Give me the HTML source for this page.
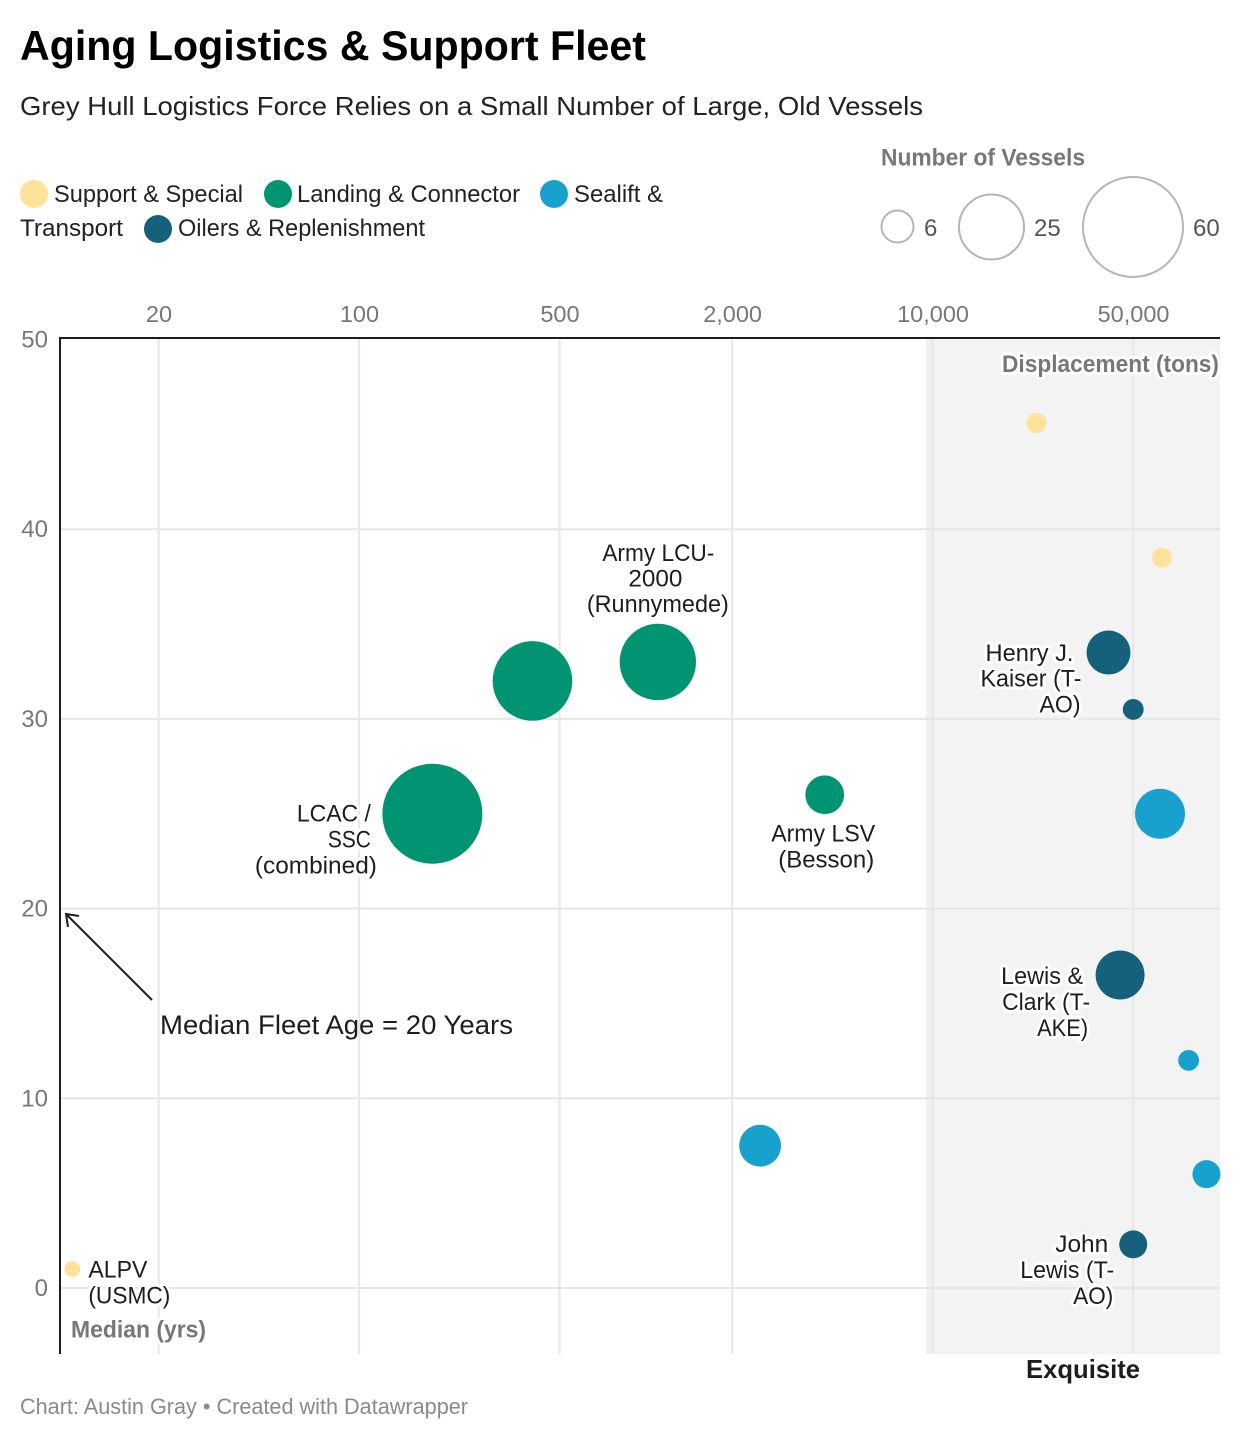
<!DOCTYPE html>
<html lang="en">
<head>
<meta charset="utf-8">
<title>Aging Logistics &amp; Support Fleet</title>
<style>
html,body{margin:0;padding:0;background:#fff;}
body{width:1240px;height:1440px;overflow:hidden;font-family:"Liberation Sans",sans-serif;}
svg{display:block;}
text{font-family:"Liberation Sans",sans-serif;}
.halo{paint-order:stroke;stroke:#fff;stroke-width:6px;stroke-linejoin:round;}
</style>
</head>
<body>
<svg id="chart" xmlns="http://www.w3.org/2000/svg" width="1240" height="1440" viewBox="0 0 1240 1440">
  <text x="20" y="60" font-size="42" font-weight="700" fill="#000" textLength="626" lengthAdjust="spacingAndGlyphs">Aging Logistics &amp; Support Fleet</text>
  <text x="20" y="115" font-size="26" fill="#222" textLength="903" lengthAdjust="spacingAndGlyphs">Grey Hull Logistics Force Relies on a Small Number of Large, Old Vessels</text>

  <g font-size="24" fill="#222">
    <circle cx="34" cy="194" r="14" fill="#ffe29a"/>
    <text x="54" y="202" textLength="189" lengthAdjust="spacingAndGlyphs">Support &amp; Special</text>
    <circle cx="278" cy="194" r="14" fill="#009473"/>
    <text x="297" y="202" textLength="223" lengthAdjust="spacingAndGlyphs">Landing &amp; Connector</text>
    <circle cx="554" cy="194" r="14" fill="#18a1cd"/>
    <text x="574" y="202" textLength="89" lengthAdjust="spacingAndGlyphs">Sealift &amp;</text>
    <text x="20" y="236" textLength="103" lengthAdjust="spacingAndGlyphs">Transport</text>
    <circle cx="158" cy="229" r="14" fill="#15607a"/>
    <text x="178" y="236" textLength="247" lengthAdjust="spacingAndGlyphs">Oilers &amp; Replenishment</text>
  </g>

  <g>
    <text x="881" y="165.5" font-size="24" font-weight="700" fill="#777" textLength="204" lengthAdjust="spacingAndGlyphs">Number of Vessels</text>
    <circle cx="897.5" cy="226.5" r="16" fill="none" stroke="#b5b5b5" stroke-width="2"/>
    <text x="924" y="236" font-size="24" fill="#555">6</text>
    <circle cx="991.5" cy="227" r="32.5" fill="none" stroke="#b5b5b5" stroke-width="2"/>
    <text x="1034" y="236" font-size="24" fill="#555">25</text>
    <circle cx="1133" cy="227" r="50" fill="none" stroke="#b5b5b5" stroke-width="2"/>
    <text x="1193" y="236" font-size="24" fill="#555">60</text>
  </g>

  <rect x="926" y="338" width="294" height="1016" fill="#f3f3f3"/>
  <rect x="926" y="338" width="7" height="1016" fill="#f0f0f0"/>

  <g id="grid"></g>
  <g id="axes"></g>
  <g id="marks"></g>
  <g id="labels" font-size="24" fill="#1d1d1d"></g>

  <text class="halo" x="1002" y="372" font-size="24" font-weight="700" fill="#777" textLength="217" lengthAdjust="spacingAndGlyphs">Displacement (tons)</text>
  <text class="halo" x="71" y="1337.5" font-size="24" font-weight="700" fill="#777" textLength="135" lengthAdjust="spacingAndGlyphs">Median (yrs)</text>

  <g>
    <path d="M152 1000 L66 914 M79 916 L66 914 L68 927" fill="none" stroke="#1d1d1d" stroke-width="2"/>
    <text x="160" y="1034" font-size="27" fill="#1d1d1d" textLength="353" lengthAdjust="spacingAndGlyphs">Median Fleet Age = 20 Years</text>
  </g>

  <text x="1026" y="1378" font-size="26" font-weight="700" fill="#1d1d1d" textLength="114" lengthAdjust="spacingAndGlyphs">Exquisite</text>
  <text x="20" y="1414" font-size="22" fill="#8a8a8a" textLength="448" lengthAdjust="spacingAndGlyphs">Chart: Austin Gray • Created with Datawrapper</text>
</svg>
<script>
// ---- Data ----
const xTickValues = [20, 100, 500, 2000, 10000, 50000];
const yTickValues = [0, 10, 20, 30, 40, 50];
const categories = ['support', 'landing', 'sealift', 'oilers'];
const categoryColors = ['#ffe29a', '#009473', '#18a1cd', '#15607a'];
const vesselNames = ['Support A', 'Support B', 'ALPV (USMC)', 'LCAC / SSC (combined)', 'Landing B', 'Army LCU-2000 (Runnymede)', 'Army LSV (Besson)', 'Sealift A', 'Sealift B', 'Sealift C', 'Sealift D', 'Henry J. Kaiser (T-AO)', 'Oiler B', 'Lewis & Clark (T-AKE)', 'John Lewis (T-AO)'];
const vesselCategory = [0, 0, 0, 1, 1, 1, 1, 2, 2, 2, 2, 3, 3, 3, 3];
const displacementTons = [23000, 63000, 10, 180, 402, 1100, 4200, 2500, 62000, 78000, 90000, 41000, 50000, 45000, 50000];
const medianAgeYears = [45.6, 38.5, 1, 25, 32, 33, 26, 7.5, 25, 12, 6, 33.5, 30.5, 16.5, 2.3];
const vesselCount = [2.4, 2.4, 1.5, 60, 38, 35, 9, 10.5, 15, 2.6, 4.7, 11.6, 2.6, 14.4, 4.7];

// ---- Scales ----
const plot = {left: 60, right: 1220, top: 338, bottom: 1354};
function xScale(v) { return 158.7 + 286.8 * Math.log10(v / 20); }
function yScale(v) { return 1288 - 18.97 * v; }
function rScale(n) { return 6.455 * Math.sqrt(n); }

const NS = 'http://www.w3.org/2000/svg';
function make(tag, parent, attrs, txt) {
  const el = document.createElementNS(NS, tag);
  for (const k in attrs) el.setAttribute(k, attrs[k]);
  if (txt !== undefined) el.textContent = txt;
  parent.appendChild(el);
  return el;
}

const grid = document.getElementById('grid');
const axes = document.getElementById('axes');
const marks = document.getElementById('marks');
const labels = document.getElementById('labels');

// ---- Gridlines and tick labels ----
xTickValues.forEach(function (t) {
  const x = xScale(t);
  const line = make('line', grid, {x1: x, x2: x, y1: plot.top, y2: plot.bottom, stroke: '#e6e6e6', 'stroke-width': 2});
  
  
  const label = make('text', axes, {x: x + 0.3, y: 322, 'text-anchor': 'middle', 'font-size': 23.5, fill: '#777'}, t.toLocaleString('en-US'));
  
  
});
yTickValues.forEach(function (t) {
  const y = yScale(t);
  if (t < 50) {
    const line = make('line', grid, {x1: plot.left, x2: plot.right, y1: y, y2: y, stroke: '#e6e6e6', 'stroke-width': 2});
    
    
  }
  const label = make('text', axes, {x: 48, y: y + 8, 'text-anchor': 'end', 'font-size': 24, fill: '#777'}, String(t));
  
  
});
const topAxis = make('line', axes, {x1: plot.left - 1, x2: plot.right, y1: plot.top, y2: plot.top, stroke: '#1d1d1d', 'stroke-width': 2});


const leftAxis = make('line', axes, {x1: plot.left, x2: plot.left, y1: plot.top, y2: plot.bottom, stroke: '#1d1d1d', 'stroke-width': 2});



// ---- Bubbles ----
vesselNames.forEach(function (name, i) {
  const c = make('circle', marks, {
    cx: xScale(displacementTons[i]),
    cy: yScale(medianAgeYears[i]),
    r: rScale(vesselCount[i]),
    fill: categoryColors[vesselCategory[i]]
  });
  
  
});

// ---- Labels (layout offsets from the bubble centre: text, dx, dy, width) ----
const labelLayout = {
  2:  [['ALPV', 16, 8.5, 59], ['(USMC)', 16, 34.5, 82]],
  3:  [['LCAC /', -135.5, 7.5, 74], ['SSC', -104.5, 33.5, 43], ['(combined)', -177.5, 59.5, 122]],
  5:  [['Army LCU-', -55.5, -101, 112], ['2000', -29.5, -75.5, 54], ['(Runnymede)', -71, -50, 142]],
  6:  [['Army LSV', -53.5, 46.5, 104], ['(Besson)', -46.5, 72.5, 96]],
  11: [['Henry J.', -123, 8.5, 88], ['Kaiser (T-', -128, 34, 101], ['AO)', -69, 60, 41]],
  13: [['Lewis &', -119, 9, 82], ['Clark (T-', -118, 35, 88], ['AKE)', -83, 61, 51]],
  14: [['John', -78, 7.5, 53], ['Lewis (T-', -113, 33.5, 94], ['AO)', -60, 59.5, 40]]
};
Object.keys(labelLayout).forEach(function (key) {
  const i = Number(key);
  const cx = xScale(displacementTons[i]);
  const cy = yScale(medianAgeYears[i]);
  labelLayout[key].forEach(function (ln, j) {
    const t = make('text', labels, {
      x: cx + ln[1],
      y: cy + ln[2],
      textLength: ln[3],
      lengthAdjust: 'spacingAndGlyphs',
      class: 'halo'
    }, ln[0]);
    
    
  });
});
</script>
</body>
</html>
